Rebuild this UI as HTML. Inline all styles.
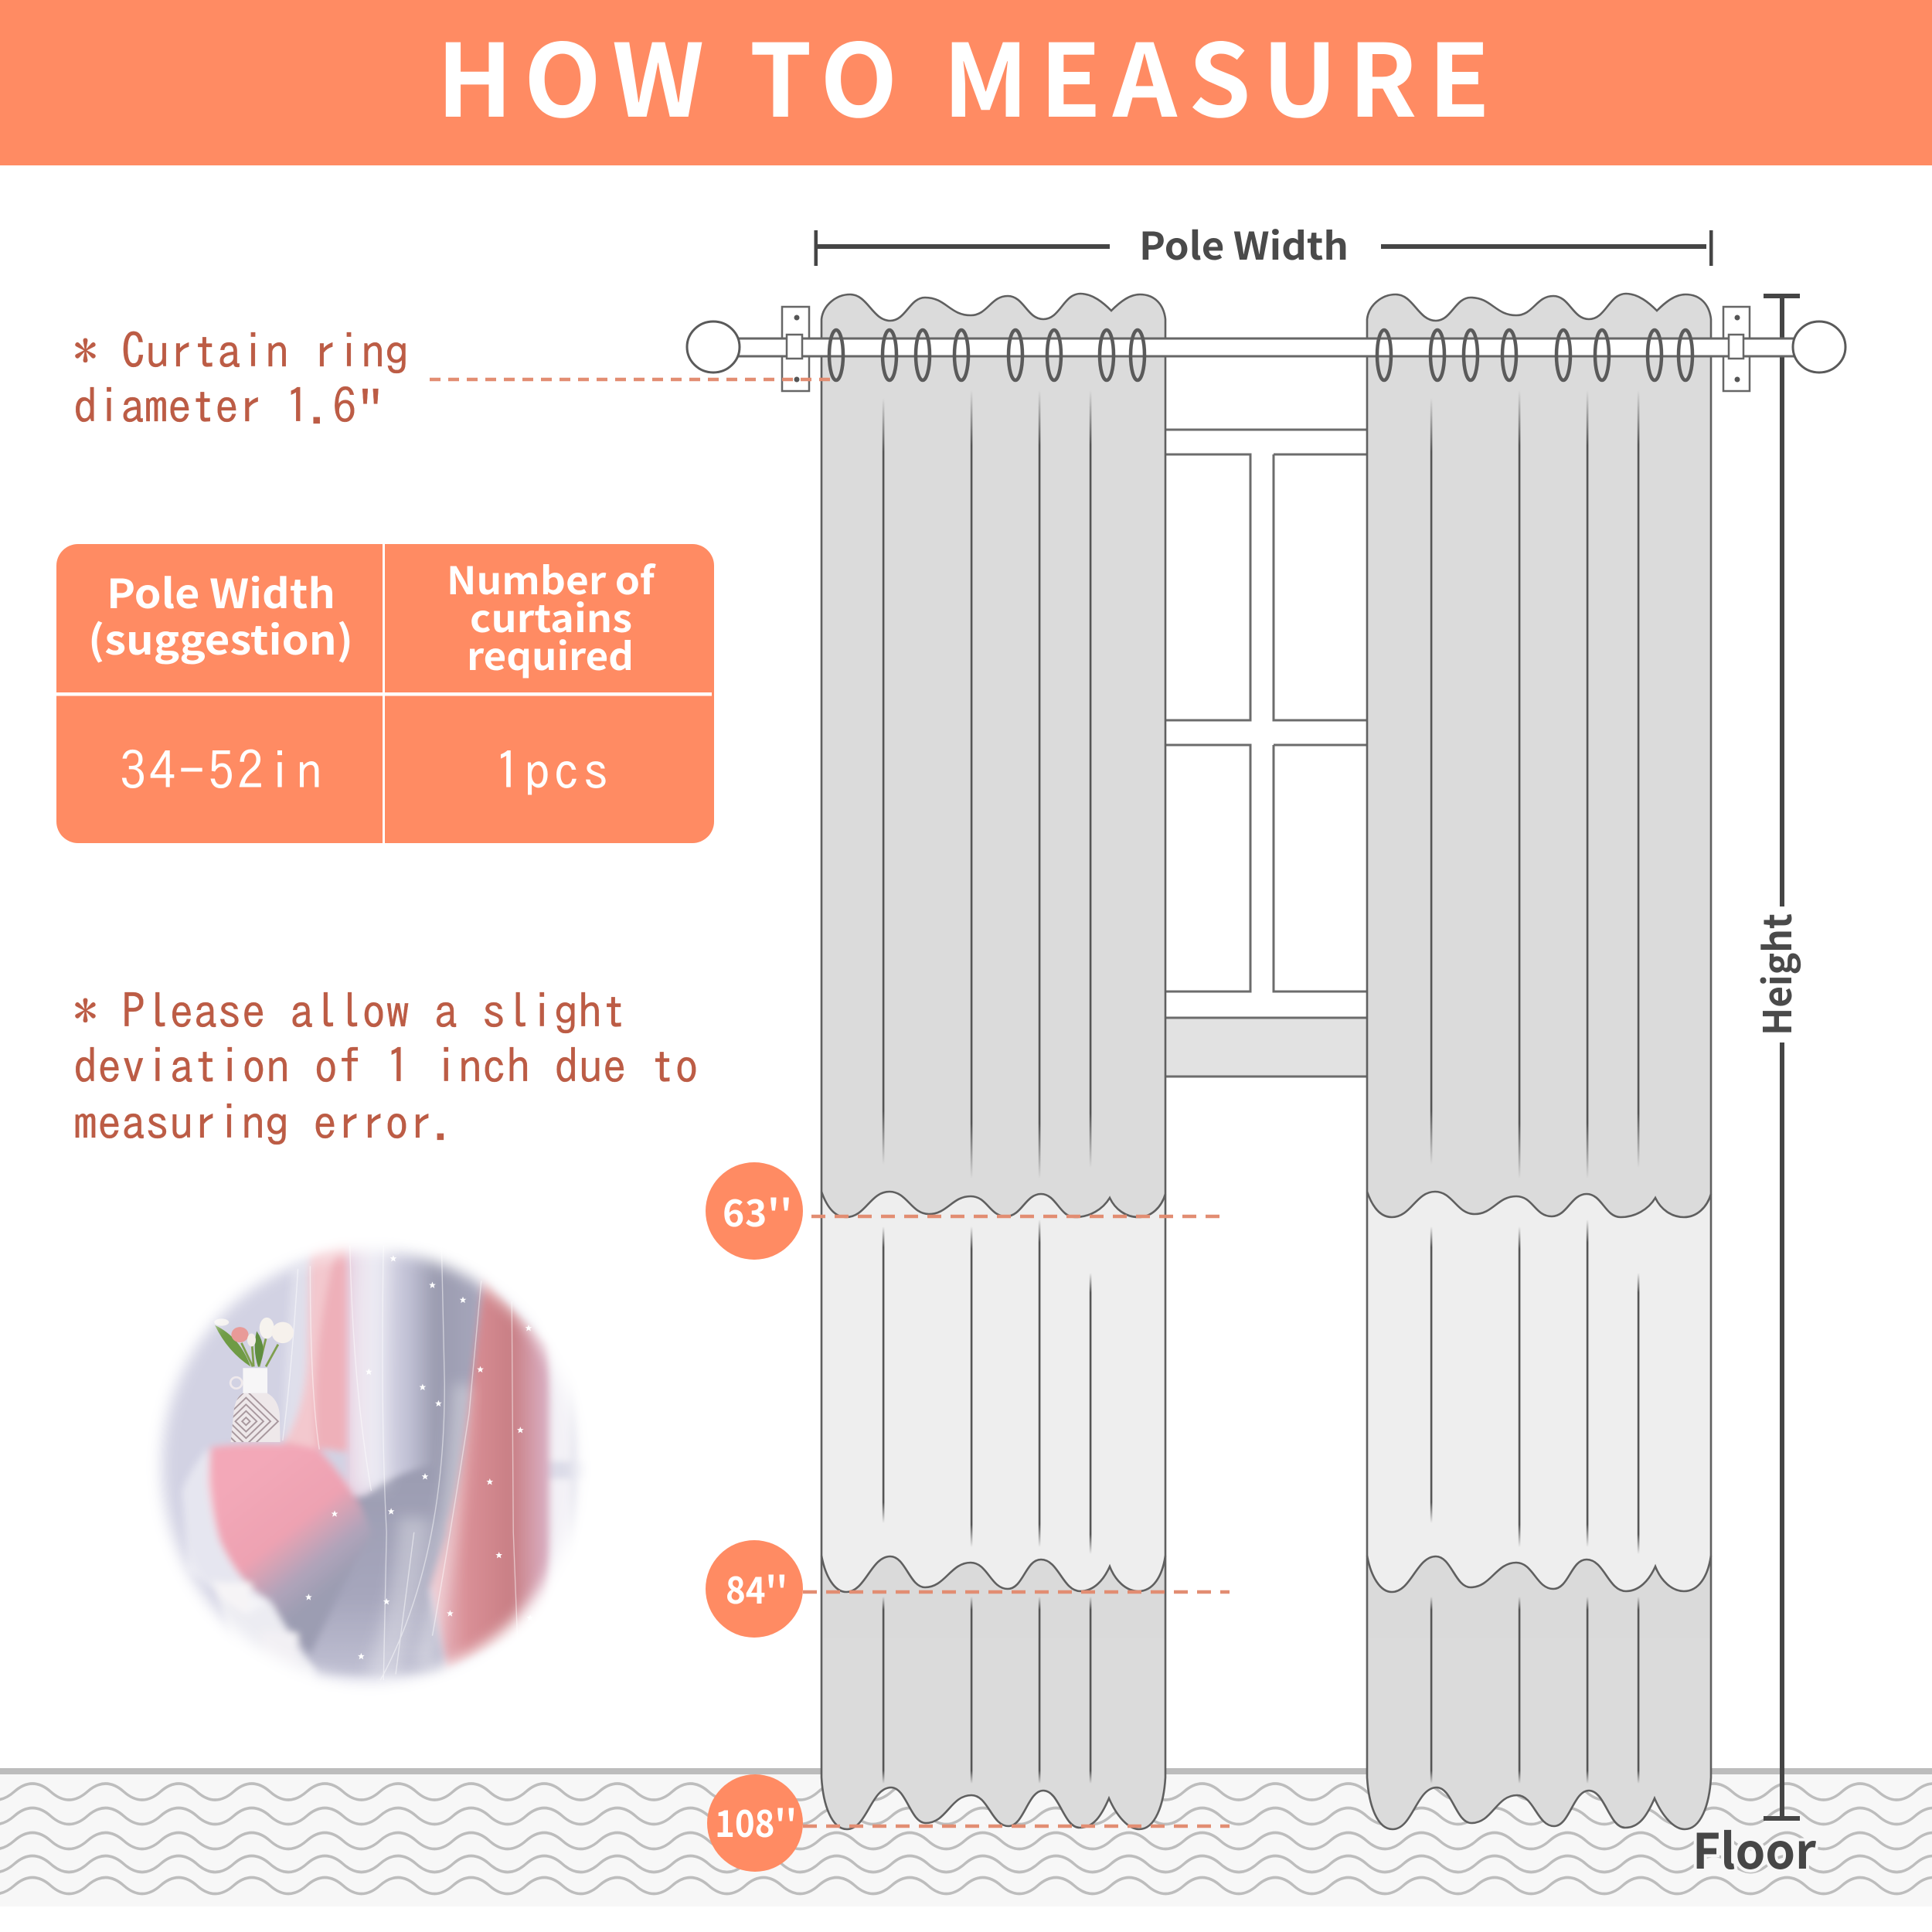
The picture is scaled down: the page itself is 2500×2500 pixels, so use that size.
<!DOCTYPE html>
<html lang="en">
<head>
<meta charset="utf-8">
<title>How to Measure</title>
<style>
html,body{margin:0;padding:0;background:#fff;width:2500px;height:2500px;overflow:hidden}
svg{display:block}
.cjk{font-family:"IPAGothic","Liberation Sans",sans-serif}
.n{font-family:"Noto Sans CJK SC","Liberation Sans",sans-serif;font-weight:700}
.m{font-family:"IPAGothic","Liberation Mono",monospace;font-size:62px;fill:#bc5c45;stroke:#bc5c45;stroke-width:.3px}
</style>
</head>
<body>
<svg xmlns="http://www.w3.org/2000/svg" width="2500" height="2500" viewBox="0 0 2500 2500">
<defs>
  <linearGradient id="fade" x1="0" y1="0" x2="0" y2="1">
    <stop offset="0" stop-color="#555" stop-opacity="0"/>
    <stop offset=".07" stop-color="#555"/>
    <stop offset=".93" stop-color="#555"/>
    <stop offset="1" stop-color="#555" stop-opacity="0"/>
  </linearGradient>
  <path id="wv" fill="none" stroke="#bdbdbd" stroke-width="3.5" d="M-76.25,0q23.65,-21 47.3,0t47.3,0t47.3,0t47.3,0t47.3,0t47.3,0t47.3,0t47.3,0t47.3,0t47.3,0t47.3,0t47.3,0t47.3,0t47.3,0t47.3,0t47.3,0t47.3,0t47.3,0t47.3,0t47.3,0t47.3,0t47.3,0t47.3,0t47.3,0t47.3,0t47.3,0t47.3,0t47.3,0t47.3,0t47.3,0t47.3,0t47.3,0t47.3,0t47.3,0t47.3,0t47.3,0t47.3,0t47.3,0t47.3,0t47.3,0t47.3,0t47.3,0t47.3,0t47.3,0t47.3,0t47.3,0t47.3,0t47.3,0t47.3,0t47.3,0t47.3,0t47.3,0t47.3,0t47.3,0t47.3,0t47.3,0"/>
  <g id="outline">
    <path fill="#dbdbdb" d="M1063,413 C1065,395 1082,381 1100,381 C1123,381 1129,415 1152,415 C1172,415 1177,385 1197,385 C1224,385 1229,408 1256,408 C1278,408 1282,383 1304,383 C1325,383 1329,413 1350,413 C1372,413 1376,380 1398,380 C1414,380 1428,392 1438,402 C1450,390 1462,381 1475,381 C1495,381 1506,395 1508,413 L1508,2300 C1506,2335 1495,2367 1474,2367 C1460,2367 1445,2350 1435,2327 C1425,2350 1415,2365 1397,2365 C1376,2365 1371,2317 1350,2317 C1330,2317 1325,2363 1305,2363 C1283,2363 1279,2323 1257,2323 C1230,2323 1225,2359 1198,2359 C1178,2359 1173,2313 1153,2313 C1127,2313 1122,2367 1096,2367 C1076,2367 1065,2335 1063,2300 Z"/>
    <path fill="#eeeeee" d="M1063,1542 C1070,1562 1080,1575 1095,1575 C1120,1575 1126,1542 1151,1542 C1174,1542 1179,1571 1202,1571 C1226,1571 1232,1548 1256,1548 C1278,1548 1280,1574 1302,1574 C1322,1574 1327,1545 1347,1545 C1367,1545 1371,1575 1391,1575 C1410,1575 1427,1565 1436,1550 C1443,1565 1457,1575 1473,1575 C1490,1575 1503,1562 1508,1545 L1508,2100 L1063,2100 Z"/>
    <path fill="#dadada" d="M1063,2013 C1068,2040 1080,2060 1095,2060 C1120,2060 1127,2014 1152,2014 C1172,2014 1177,2054 1197,2054 C1223,2054 1230,2022 1256,2022 C1278,2022 1282,2056 1304,2056 C1324,2056 1327,2018 1347,2018 C1370,2018 1375,2059 1398,2059 C1415,2059 1428,2045 1436,2027 C1443,2045 1457,2059 1473,2059 C1492,2059 1504,2040 1508,2013 L1508,2120 L1063,2120 Z"/>
    <g fill="none" stroke="#5f5f5f" stroke-width="2.6">
      <path d="M1063,413 C1065,395 1082,381 1100,381 C1123,381 1129,415 1152,415 C1172,415 1177,385 1197,385 C1224,385 1229,408 1256,408 C1278,408 1282,383 1304,383 C1325,383 1329,413 1350,413 C1372,413 1376,380 1398,380 C1414,380 1428,392 1438,402 C1450,390 1462,381 1475,381 C1495,381 1506,395 1508,413 L1508,2300 C1506,2335 1495,2367 1474,2367 C1460,2367 1445,2350 1435,2327 C1425,2350 1415,2365 1397,2365 C1376,2365 1371,2317 1350,2317 C1330,2317 1325,2363 1305,2363 C1283,2363 1279,2323 1257,2323 C1230,2323 1225,2359 1198,2359 C1178,2359 1173,2313 1153,2313 C1127,2313 1122,2367 1096,2367 C1076,2367 1065,2335 1063,2300 Z"/>
      <path d="M1063,1542 C1070,1562 1080,1575 1095,1575 C1120,1575 1126,1542 1151,1542 C1174,1542 1179,1571 1202,1571 C1226,1571 1232,1548 1256,1548 C1278,1548 1280,1574 1302,1574 C1322,1574 1327,1545 1347,1545 C1367,1545 1371,1575 1391,1575 C1410,1575 1427,1565 1436,1550 C1443,1565 1457,1575 1473,1575 C1490,1575 1503,1562 1508,1545"/>
      <path d="M1063,2013 C1068,2040 1080,2060 1095,2060 C1120,2060 1127,2014 1152,2014 C1172,2014 1177,2054 1197,2054 C1223,2054 1230,2022 1256,2022 C1278,2022 1282,2056 1304,2056 C1324,2056 1327,2018 1347,2018 C1370,2018 1375,2059 1398,2059 C1415,2059 1428,2045 1436,2027 C1443,2045 1457,2059 1473,2059 C1492,2059 1504,2040 1508,2013"/>
    </g>
  </g>
  <g id="pleats" fill="url(#fade)">
    <rect x="1141.8" y="515" width="2.6" height="992"/>
    <rect x="1255.8" y="505" width="2.6" height="1020"/>
    <rect x="1343.8" y="505" width="2.6" height="1020"/>
    <rect x="1409.8" y="505" width="2.6" height="1006"/>
    <rect x="1141.8" y="1587" width="2.6" height="384"/>
    <rect x="1255.8" y="1587" width="2.6" height="415"/>
    <rect x="1343.8" y="1578" width="2.6" height="424"/>
    <rect x="1409.8" y="1647" width="2.6" height="364"/>
    <rect x="1141.8" y="2066" width="2.6" height="242"/>
    <rect x="1255.8" y="2066" width="2.6" height="242"/>
    <rect x="1343.8" y="2066" width="2.6" height="242"/>
    <rect x="1409.8" y="2066" width="2.6" height="242"/>
  </g>
  <g id="rings" fill="none" stroke="#5a5a5a" stroke-width="4.5">
    <ellipse cx="1082" cy="459.5" rx="9" ry="32.5"/>
    <ellipse cx="1151" cy="459.5" rx="9" ry="32.5"/>
    <ellipse cx="1194" cy="459.5" rx="9" ry="32.5"/>
    <ellipse cx="1244" cy="459.5" rx="9" ry="32.5"/>
    <ellipse cx="1314" cy="459.5" rx="9" ry="32.5"/>
    <ellipse cx="1364" cy="459.5" rx="9" ry="32.5"/>
    <ellipse cx="1432" cy="459.5" rx="9" ry="32.5"/>
    <ellipse cx="1472" cy="459.5" rx="9" ry="32.5"/>
  </g>
  <polygon id="st" fill="#fff" points="0,-12 3,-4 11,-4 5,1 7,10 0,5 -7,10 -5,1 -11,-4 -3,-4"/>

  <linearGradient id="drape" x1="680" y1="0" x2="1150" y2="0" gradientUnits="userSpaceOnUse">
    <stop offset="0" stop-color="#e6cfe0"/><stop offset=".2" stop-color="#dedcea"/>
    <stop offset=".42" stop-color="#c2c2d6"/><stop offset=".62" stop-color="#9b9cb0"/>
    <stop offset=".9" stop-color="#a5a5ba"/><stop offset="1" stop-color="#c9bccd"/>
  </linearGradient>
  <linearGradient id="pinkR" x1="960" y1="0" x2="1340" y2="0" gradientUnits="userSpaceOnUse">
    <stop offset="0" stop-color="#e9bdc6"/><stop offset=".3" stop-color="#d98f96"/>
    <stop offset=".68" stop-color="#c97f85"/><stop offset="1" stop-color="#dab0c4"/>
  </linearGradient>
  <linearGradient id="grayD" x1="0" y1="820" x2="0" y2="1480" gradientUnits="userSpaceOnUse">
    <stop offset="0" stop-color="#9c9db2"/><stop offset=".6" stop-color="#a6a6bc"/><stop offset="1" stop-color="#bfbfd2"/>
  </linearGradient>
  <linearGradient id="cloth" x1="350" y1="800" x2="650" y2="1170" gradientUnits="userSpaceOnUse">
    <stop offset="0" stop-color="#f3a8b8"/><stop offset=".5" stop-color="#eea2b2"/>
    <stop offset=".8" stop-color="#b0a4ba"/><stop offset="1" stop-color="#9c9db2"/>
  </linearGradient>
  <filter id="soft" x="-5%" y="-5%" width="110%" height="110%"><feGaussianBlur stdDeviation="12"/></filter>
  <filter id="soft2" x="-20%" y="-20%" width="140%" height="140%"><feGaussianBlur stdDeviation="24"/></filter>
  <filter id="edge" x="-20%" y="-20%" width="140%" height="140%"><feGaussianBlur stdDeviation="24"/></filter>
  <mask id="photoMask" maskUnits="userSpaceOnUse" x="-100" y="-100" width="1800" height="1800">
    <ellipse cx="755" cy="775" rx="680" ry="725" fill="#fff" filter="url(#edge)"/>
  </mask>
  <clipPath id="vaseClip"><path d="M340,530 L420,530 Q455,550 460,600 L462,695 L300,695 L310,590 Q315,545 340,530 Z"/></clipPath>
</defs>

<rect width="2500" height="2500" fill="#fff"/>

<!-- header -->
<rect x="0" y="0" width="2500" height="214" fill="#ff8b63"/>
<text class="n" x="565" y="151" font-size="130" fill="#fff" textLength="1363" lengthAdjust="spacing">HOW TO MEASURE</text>

<!-- floor -->
<rect x="0" y="2296" width="2500" height="171" fill="#f7f7f7"/>
<rect x="0" y="2288" width="2500" height="8" fill="#bcbcbc"/>
<use href="#wv" x="0" y="2318.5"/>
<use href="#wv" x="0" y="2350"/>
<use href="#wv" x="0" y="2382"/>
<use href="#wv" x="0" y="2412"/>
<use href="#wv" x="0" y="2440"/>

<!-- window -->
<g fill="none" stroke="#6c6c6c" stroke-width="3">
  <rect x="1508" y="1317" width="261" height="76" fill="#e2e2e2" stroke="none"/>
  <path d="M1508,556H1769M1508,588H1618V932H1508M1648,588H1769M1648,588V932H1769M1508,964H1618V1283H1508M1648,964H1769M1648,964V1283H1769M1508,1317H1769M1508,1393H1769"/>
</g>

<!-- curtains -->
<use href="#outline"/>
<use href="#outline" x="706"/>
<use href="#pleats"/>
<use href="#pleats" x="709"/>

<!-- brackets (back) -->
<g fill="#fff" stroke="#666" stroke-width="2.5">
  <rect x="1012" y="397" width="35" height="109"/>
  <rect x="2230" y="397" width="34" height="109"/>
</g>
<g fill="#555">
  <circle cx="1031" cy="411" r="3.5"/><circle cx="1031" cy="491" r="3.5"/>
  <circle cx="2248" cy="411" r="3.5"/><circle cx="2248" cy="491" r="3.5"/>
</g>

<!-- height line -->
<g fill="#454545">
  <rect x="2303" y="383" width="6" height="790"/>
  <rect x="2303" y="1349" width="6" height="1004"/>
  <rect x="2282" y="380" width="47" height="6"/>
  <rect x="2282" y="2350" width="47" height="6"/>
</g>

<!-- rod -->
<rect x="950" y="438" width="1375" height="23" fill="#fff"/>
<path d="M950,438H2325M950,461H2325" stroke="#666" stroke-width="3" fill="none"/>
<g fill="#fff" stroke="#666" stroke-width="2.5">
  <rect x="1018" y="433" width="20" height="31"/>
  <rect x="2237" y="433" width="19" height="31"/>
</g>
<use href="#rings"/>
<use href="#rings" x="709"/>
<g fill="#fff" stroke="#5a5a5a" stroke-width="3">
  <ellipse cx="923" cy="449" rx="34" ry="33"/>
  <ellipse cx="2354" cy="449" rx="34" ry="33"/>
</g>

<!-- pole width -->
<g fill="#454545">
  <rect x="1053.5" y="298" width="4.5" height="46"/>
  <rect x="2212" y="298" width="4.5" height="46"/>
  <rect x="1056" y="316" width="380" height="6"/>
  <rect x="1787" y="316" width="421" height="6"/>
</g>
<text class="n" x="1474" y="336" font-size="49" fill="#4a4a4a" textLength="271" lengthAdjust="spacingAndGlyphs">Pole Width</text>
<text class="n" transform="translate(2318,1340) rotate(-90)" font-size="50" fill="#4a4a4a" textLength="158" lengthAdjust="spacingAndGlyphs">Height</text>
<text class="n" x="2190" y="2418" font-size="63" fill="#464646" stroke="#f7f7f7" stroke-width="8" paint-order="stroke" textLength="160" lengthAdjust="spacingAndGlyphs">Floor</text>

<!-- dashed -->
<g stroke="#e28d72" stroke-width="4.5" fill="none">
  <path d="M556,491H1076" stroke-dasharray="14 10"/>
  <path d="M1050,1574H1581" stroke-dasharray="18 12"/>
  <path d="M1039,2060H1591" stroke-dasharray="18 12"/>
  <path d="M1039,2363H1591" stroke-dasharray="18 12"/>
</g>

<!-- badges -->
<g fill="#ff8b63">
  <ellipse cx="976" cy="1567" rx="63" ry="63"/>
  <ellipse cx="976" cy="2056" rx="63" ry="63"/>
  <ellipse cx="977" cy="2359" rx="62" ry="63"/>
</g>
<g class="n" fill="#fff" font-size="48">
  <text x="935" y="1587" textLength="90" lengthAdjust="spacing">63''</text>
  <text x="939" y="2075" textLength="80" lengthAdjust="spacingAndGlyphs">84''</text>
  <text x="925" y="2377" textLength="106" lengthAdjust="spacingAndGlyphs">108''</text>
</g>

<!-- left notes -->
<text class="m" x="95" y="477" textLength="434" lengthAdjust="spacing">* Curtain ring</text>
<text class="m" x="95" y="548" textLength="403" lengthAdjust="spacing">diameter 1.6<tspan font-family="Liberation Mono">"</tspan></text>
<text class="m" x="95" y="1331" textLength="715" lengthAdjust="spacing">* Please allow a slight</text>
<text class="m" x="95" y="1402" textLength="809" lengthAdjust="spacing">deviation of 1 inch due to</text>
<text class="m" x="95" y="1475" textLength="496" lengthAdjust="spacing">measuring error.</text>

<!-- table -->
<rect x="73" y="704" width="851" height="387" rx="28" ry="28" fill="#ff8b63"/>
<rect x="495" y="704" width="3" height="387" fill="#fff"/>
<rect x="73" y="896" width="848" height="4.5" fill="#fff"/>
<g class="n" fill="#fff">
  <text x="138" y="787" font-size="52" textLength="296" lengthAdjust="spacingAndGlyphs">Pole Width</text>
  <text x="114" y="847" font-size="52" textLength="343" lengthAdjust="spacingAndGlyphs">(suggestion)</text>
  <text x="578" y="769" font-size="49" textLength="269" lengthAdjust="spacingAndGlyphs">Number of</text>
  <text x="608" y="818" font-size="49" textLength="210" lengthAdjust="spacingAndGlyphs">curtains</text>
  <text x="604" y="867" font-size="49" textLength="216" lengthAdjust="spacingAndGlyphs">required</text>
</g>
<g class="cjk" fill="#fff" font-size="68">
  <text x="155" y="1022" textLength="262" lengthAdjust="spacing">34-52in</text>
  <text x="640" y="1022" textLength="148" lengthAdjust="spacing">1pcs</text>
</g>

<!-- photo -->
<g transform="translate(180,1600) scale(.3953,.3827)">
 <g mask="url(#photoMask)">
  <g filter="url(#soft)">
    <rect x="-50" y="-50" width="1650" height="1650" fill="#d2d2e3"/>
    <rect x="1320" y="-50" width="300" height="1650" fill="#f3f1f6"/>
    <rect x="1340" y="760" width="140" height="60" fill="#dcdce8"/>
    <rect x="1415" y="-50" width="25" height="1650" fill="#dcdce8"/>
    <path d="M560,-20 L760,-20 L760,740 L470,700 Q540,600 550,420 Z" fill="#eeb0b9"/>
    <rect x="680" y="-20" width="480" height="1100" fill="url(#drape)"/>
    <path d="M1130,130 L1345,360 L1345,1310 L1010,1470 L950,1150 Q1040,950 1075,600 Z" fill="url(#pinkR)"/>
    <path d="M240,1160 L570,1300 L570,1520 L330,1470 Z" fill="#ececf2"/>
    <path d="M620,850 Q720,900 760,860 Q830,800 1000,760 L1010,1000 L950,1200 L1005,1490 L600,1490 Q500,1380 430,1230 Z" fill="url(#grayD)"/>
    <path d="M235,712 Q400,690 580,712 Q640,770 720,900 L760,1000 L660,1200 L560,1415 Q500,1340 430,1235 Q330,1180 265,1030 Q235,930 225,830 Z" fill="url(#cloth)"/>
    <path d="M230,710 Q170,780 140,860 L160,1130 L350,1280 L430,1230 Q330,1180 265,1030 Q235,930 230,710 Z" fill="#fff" opacity=".45"/>
    <path d="M250,1170 L370,1170 L350,1280 L255,1215 Z" fill="#f6f4f6"/>
    <path d="M400,1330 L520,1340 L520,1460 L400,1440 Z" fill="#f2f0f4"/>
    <path d="M500,110 Q470,500 470,690 L580,720 Q560,400 640,60 Z" fill="#fff" opacity=".3"/>
  </g>
  <g filter="url(#soft2)" fill="none" stroke="#fff">
    <path d="M770,0 Q740,500 760,850" stroke-width="110" opacity=".4"/>
    <path d="M900,950 Q890,1200 790,1500" stroke-width="100" opacity=".3"/>
    <path d="M1060,500 Q1030,1000 930,1450" stroke-width="60" opacity=".35"/>
  </g>
  <g fill="none" stroke="#fff" opacity=".5" stroke-width="3.5">
    <path d="M690,30 Q700,500 760,860"/>
    <path d="M800,30 Q790,600 810,1000 L800,1500"/>
    <path d="M990,30 L1000,500 Q1000,1100 790,1500"/>
    <path d="M1120,150 L1080,600 Q1020,1000 960,1350"/>
    <path d="M1220,220 L1225,1000 L1240,1400"/>
    <path d="M520,110 Q500,450 470,690"/>
    <path d="M560,100 Q560,520 590,720"/>
    <path d="M900,1000 L840,1480"/>
  </g>
  <!-- vase -->
  <path d="M340,445H420V530H340Z" fill="#f7f6f7"/>
  <circle cx="318" cy="495" r="19" fill="none" stroke="#efe9ec" stroke-width="7"/>
  <path d="M340,530 L420,530 Q455,550 460,600 L462,695 L300,695 L310,590 Q315,545 340,530 Z" fill="#eee8ea"/>
  <g clip-path="url(#vaseClip)" fill="none" stroke="#a8989e" stroke-width="5">
    <path d="M350,612L363,625L350,638L337,625Z"/>
    <path d="M350,590L385,625L350,660L315,625Z"/>
    <path d="M350,568L407,625L350,682L293,625Z"/>
    <path d="M350,545L430,625L350,705L270,625Z"/>
    <path d="M350,520L455,625L350,730L245,625Z"/>
  </g>
  <!-- flowers -->
  <g fill="none" stroke="#7f9f4e" stroke-width="7">
    <path d="M335,360 L372,440"/><path d="M370,370 L375,440"/><path d="M415,345 L392,440"/><path d="M455,365 L415,440"/>
  </g>
  <path d="M248,300 Q330,340 365,440 Q290,390 248,300Z" fill="#6f9b45"/>
  <path d="M385,320 Q425,380 390,442 Q370,380 385,320Z" fill="#5f8d40"/>
  <ellipse cx="270" cy="290" rx="24" ry="12" fill="#f4f1ee"/>
  <ellipse cx="330" cy="332" rx="28" ry="26" fill="#e89a98"/>
  <ellipse cx="368" cy="350" rx="14" ry="22" fill="#f2ede8"/>
  <ellipse cx="418" cy="310" rx="24" ry="36" fill="#f6f3ee"/>
  <ellipse cx="470" cy="325" rx="36" ry="36" fill="#f6f1ec"/>
  <!-- stars -->
  <use href="#st" x="832" y="75"/><use href="#st" x="960" y="165"/><use href="#st" x="1060" y="215"/>
  <use href="#st" x="1275" y="310"/><use href="#st" x="1117" y="450"/><use href="#st" x="928" y="510"/>
  <use href="#st" x="980" y="565"/><use href="#st" x="1248" y="655"/><use href="#st" x="1148" y="830"/>
  <use href="#st" x="936" y="812"/><use href="#st" x="825" y="930"/><use href="#st" x="640" y="938"/>
  <use href="#st" x="1178" y="1078"/><use href="#st" x="555" y="1220"/><use href="#st" x="810" y="1235"/>
  <use href="#st" x="1018" y="1275"/><use href="#st" x="727" y="1420"/><use href="#st" x="752" y="458"/>
  <use href="#st" x="1280" y="1290"/>
 </g>
</g>
</svg>
</body>
</html>
